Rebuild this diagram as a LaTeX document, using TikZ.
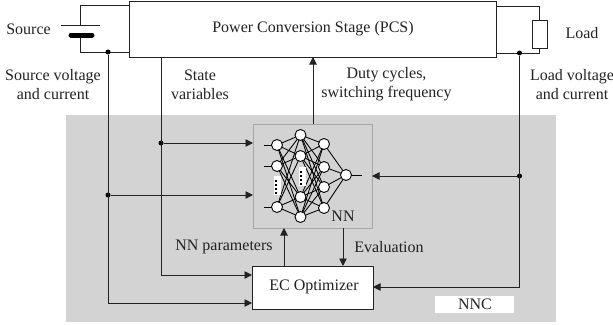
\documentclass[tikz,border=0pt]{standalone}
\usepackage{fontspec}
\setmainfont{Liberation Serif}
\usetikzlibrary{arrows.meta}
\definecolor{panel}{HTML}{D3D3D3}
\definecolor{ink}{HTML}{222222}
\tikzset{
  x=1pt,y=-1pt,
  wire/.style={draw=ink,line width=0.95pt},
  arr/.style={wire,-{Triangle[length=7.5pt,width=7.5pt]}},
  box/.style={draw=ink,line width=0.9pt,fill=white,anchor=north west,inner sep=0pt,outer sep=0pt},
  lbl/.style={font=\fontsize{16pt}{18pt}\selectfont,text=ink,inner sep=0pt,align=center},
  neuron/.style={circle,draw=black,line width=0.9pt,fill=white,minimum size=11pt,inner sep=0pt},
  syn/.style={draw=black,line width=0.85pt},
  junction/.style={circle,fill=black,minimum size=5pt,inner sep=0pt}
}
\begin{document}
\begin{tikzpicture}
\useasboundingbox (0,0) rectangle (613,324);
\fill[panel] (66,115) rectangle (556,322);
% main boxes
\node[box,minimum width=367pt,minimum height=56pt] (pcs) at (129,1) {};
\node[lbl] (pcslbl) at (313,29) {Power Conversion Stage (PCS)};
\node[draw=black!35,line width=0.9pt,fill=panel,anchor=north west,minimum width=119pt,minimum height=104pt,inner sep=0pt,outer sep=0pt] (nn) at (253,124) {};
\node[box,minimum width=121pt,minimum height=43pt] (ec) at (252,266) {};
\node[lbl] (eclbl) at (314,287) {EC Optimizer};
\node[fill=white,anchor=north west,minimum width=79pt,minimum height=17pt,inner sep=0pt] (nnc) at (435,296) {};
\node[lbl] (nnclbl) at (475,304.5) {NNC};
% source
\coordinate (st) at (129,5);
\coordinate (sb) at (129,52);
\coordinate (bt) at (80,5);
\coordinate (bb) at (80,52);
\coordinate (p1) at (80,25);
\coordinate (p2) at (80,35);
\coordinate (pa) at (61,25);
\coordinate (pb) at (100,25);
\coordinate (na) at (71,35);
\coordinate (nb) at (92,35);
\draw[wire] (st) -- (bt) -- (p1);
\draw[wire] (p2) -- (bb) -- (sb);
\draw[wire] (pa) -- (pb);
\draw[draw=black,line width=5pt,line cap=round] (na) -- (nb);
% load
\node[draw=ink,line width=1pt,fill=white,anchor=north west,minimum width=15pt,minimum height=28pt,inner sep=0pt,outer sep=0pt] (res) at (532,20) {};
\coordinate (lt) at (496,6);
\coordinate (lc) at (539.5,6);
\coordinate (lb) at (496,53);
\coordinate (ld) at (539.5,53);
\draw[wire] (lt) -- (lc) -- (res.north);
\draw[wire] (lb) -- (ld) -- (res.south);
% junctions
\node[junction] (j1) at (108,52) {};
\node[junction] (j2) at (108,195) {};
\node[junction] (j3) at (161,143) {};
\node[junction] (j4) at (519.5,53) {};
\node[junction] (j5) at (519.5,176) {};
% feedback wiring
\coordinate (c1) at (108,303);
\coordinate (c2) at (161,57);
\coordinate (c3) at (161,275);
\coordinate (c4) at (519.5,287);
\draw[arr] (j1) -- (c1) -- (ec.west |- c1);
\draw[arr] (c2) -- (c3) -- (ec.west |- c3);
\draw[arr] (j3) -- (nn.west |- j3);
\draw[arr] (j2) -- (nn.west |- j2);
\draw[arr] (j4) -- (c4) -- (ec.east |- c4);
\draw[arr] (j5) -- (nn.east |- j5);
\coordinate (u1) at (313,124);
\draw[arr] (u1) -- (u1 |- pcs.south);
\coordinate (u2) at (284,266);
\draw[arr] (u2) -- (u2 |- nn.south);
\coordinate (u3) at (343,228);
\draw[arr] (u3) -- (u3 |- ec.north);
% neurons
\foreach \n/\x/\y in {a1/277/145,a2/277/166,a3/277/207,
  b1/300.5/135,b2/300.5/156,b3/300.5/197,b4/300.5/217,
  c1/324/144,c2/324/167,c3/324/187,c4/324/208,o/346/175}
  \coordinate (\n) at (\x,\y);
\foreach \a in {a1,a2,a3} \foreach \b in {b1,b2,b3,b4} \draw[syn] (\a) -- (\b);
\foreach \a in {b1,b2,b3,b4} \foreach \b in {c1,c2,c3,c4} \draw[syn] (\a) -- (\b);
\foreach \a in {c1,c2,c3,c4} \draw[syn] (\a) -- (o);
\coordinate (i1) at (264,145);
\coordinate (i2) at (264,166);
\coordinate (i3) at (264,207);
\coordinate (oo) at (362,175);
\draw[syn] (i1) -- (a1);
\draw[syn] (i2) -- (a2);
\draw[syn] (i3) -- (a3);
\draw[syn] (o) -- (oo);
\foreach \n in {a1,a2,a3,b1,b2,b3,b4,c1,c2,c3,c4,o}
  \node[neuron] at (\n) {};
% ellipsis patches
\fill[white] (274,176) rectangle (281,195);
\fill[white] (299,167) rectangle (306,186);
\foreach \y in {180,184,188,192} \fill[black] (274.5,\y) rectangle (276.5,\y+1.5);
\foreach \y in {171,175,179,183} \fill[black] (299.5,\y) rectangle (301.5,\y+1.5);
% labels
\node[lbl] (t1) at (28.5,29) {Source};
\node[lbl] (t2) at (53,84.5) {Source voltage\\[1pt]and current};
\node[lbl] (t3) at (200,84.5) {State\\[1pt]variables};
\node[lbl] (t4) at (386.5,84.5) {Duty cycles,\\[1pt]switching frequency};
\node[lbl] (t5) at (582,33) {Load};
\node[lbl] (t6) at (572,84.5) {Load voltage\\[1pt]and current};
\node[lbl] (t7) at (343,216) {NN};
\node[lbl] (t8) at (224,247) {NN parameters};
\node[lbl] (t9) at (389,247) {Evaluation};
\end{tikzpicture}
\end{document}
